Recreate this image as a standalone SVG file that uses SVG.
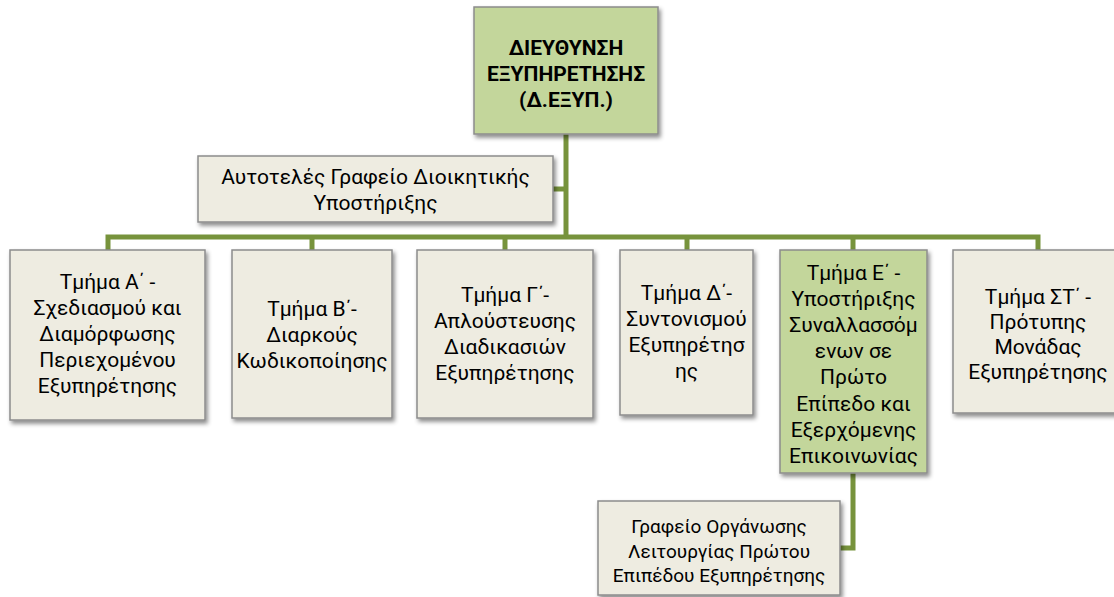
<svg xmlns="http://www.w3.org/2000/svg" width="1114" height="597" viewBox="0 0 1114 597">
<defs>
<filter id="sh" x="-10%" y="-10%" width="130%" height="130%">
<feDropShadow dx="2" dy="3" stdDeviation="2" flood-color="#000" flood-opacity="0.45"/>
</filter>
<style>
.bx{fill:#eeece1;stroke:#8c8c8c;stroke-width:1.5;filter:url(#sh)}
.gr{fill:#c3d69b;stroke:#8c8c8c;stroke-width:1.5;filter:url(#sh)}
.t{font-family:Roboto,"Liberation Sans",sans-serif;font-size:21px;fill:#000;text-anchor:middle}
.tb{font-family:Roboto,"Liberation Sans",sans-serif;font-size:21px;font-weight:bold;fill:#000;text-anchor:middle}
.ts{font-family:Roboto,"Liberation Sans",sans-serif;font-size:19px;fill:#000;text-anchor:middle}
.c{fill:none;stroke:#77933c;stroke-width:5}
</style>
</defs>
<g id="connectors">
<path class="c" d="M566 134 V237"/>
<path class="c" d="M553 189 H566"/>
<path class="c" d="M108 252 V237 H1038 V252"/>
<path class="c" d="M312 237 V252"/>
<path class="c" d="M505 237 V252"/>
<path class="c" d="M687 237 V252"/>
<path class="c" d="M853 237 V252"/>
<path class="c" d="M853 473 V548 H840"/>
</g>
<g id="n-top">
<rect class="gr" x="474" y="7" width="184" height="127"/>
<text class="tb" x="566" y="55">ΔΙΕΥΘΥΝΣΗ</text>
<text class="tb" x="566" y="81">ΕΞΥΠΗΡΕΤΗΣΗΣ</text>
<text class="tb" x="566" y="107">(Δ.ΕΞΥΠ.)</text>
</g>
<g id="n-auto">
<rect class="bx" x="198" y="156" width="355" height="66"/>
<text class="t" x="375.5" y="184">Αυτοτελές Γραφείο Διοικητικής</text>
<text class="t" x="375.5" y="210">Υποστήριξης</text>
</g>
<g id="n-a">
<rect class="bx" x="10" y="250" width="195" height="170"/>
<text class="t" x="107.5" y="289">Τμήμα Α΄ -</text>
<text class="t" x="107.5" y="315">Σχεδιασμού και</text>
<text class="t" x="107.5" y="341">Διαμόρφωσης</text>
<text class="t" x="107.5" y="367">Περιεχομένου</text>
<text class="t" x="107.5" y="393">Εξυπηρέτησης</text>
</g>
<g id="n-b">
<rect class="bx" x="232" y="250" width="160" height="168"/>
<text class="t" x="312" y="316">Τμήμα Β΄-</text>
<text class="t" x="312" y="342">Διαρκούς</text>
<text class="t" x="312" y="368">Κωδικοποίησης</text>
</g>
<g id="n-c">
<rect class="bx" x="417" y="250" width="176" height="168"/>
<text class="t" x="505" y="302">Τμήμα Γ΄-</text>
<text class="t" x="505" y="328">Απλούστευσης</text>
<text class="t" x="505" y="354">Διαδικασιών</text>
<text class="t" x="505" y="380">Εξυπηρέτησης</text>
</g>
<g id="n-d">
<rect class="bx" x="620" y="250" width="133" height="165"/>
<text class="t" x="686.5" y="300">Τμήμα Δ΄-</text>
<text class="t" x="686.5" y="326">Συντονισμού</text>
<text class="t" x="686.5" y="352">Εξυπηρέτησ</text>
<text class="t" x="686.5" y="378">ης</text>
</g>
<g id="n-e">
<rect class="gr" x="780" y="250" width="147" height="223"/>
<text class="t" x="853.5" y="280">Τμήμα Ε΄ -</text>
<text class="t" x="853.5" y="306">Υποστήριξης</text>
<text class="t" x="853.5" y="332">Συναλλασσόμ</text>
<text class="t" x="853.5" y="358">ενων σε</text>
<text class="t" x="853.5" y="384">Πρώτο</text>
<text class="t" x="853.5" y="411">Επίπεδο και</text>
<text class="t" x="853.5" y="437">Εξερχόμενης</text>
<text class="t" x="853.5" y="463">Επικοινωνίας</text>
</g>
<g id="n-st">
<rect class="bx" x="953" y="250" width="170" height="163"/>
<text class="t" x="1038" y="304">Τμήμα ΣΤ΄ -</text>
<text class="t" x="1038" y="329">Πρότυπης</text>
<text class="t" x="1038" y="354">Μονάδας</text>
<text class="t" x="1038" y="379">Εξυπηρέτησης</text>
</g>
<g id="n-office">
<rect class="bx" x="598" y="501" width="242" height="94"/>
<text class="ts" x="719" y="533">Γραφείο Οργάνωσης</text>
<text class="ts" x="719" y="558">Λειτουργίας Πρώτου</text>
<text class="ts" x="719" y="582">Επιπέδου Εξυπηρέτησης</text>
</g>
</svg>
